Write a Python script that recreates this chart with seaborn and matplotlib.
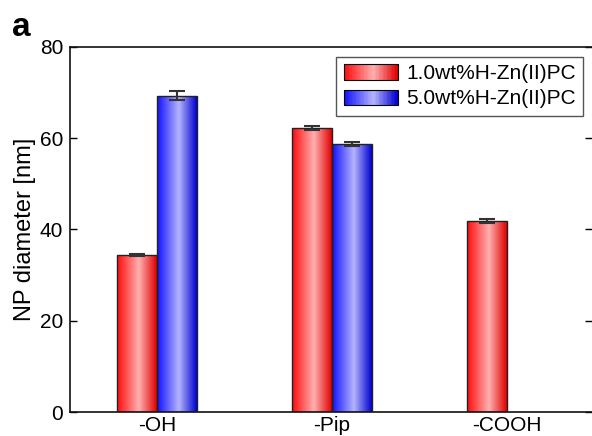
import numpy as np
import pandas as pd
import matplotlib
matplotlib.use("Agg")
import matplotlib.pyplot as plt
import seaborn as sns
from matplotlib.colors import LinearSegmentedColormap
from matplotlib.legend_handler import HandlerBase
from matplotlib.patches import Rectangle

sns.set_style("white")
plt.rcParams["font.family"] = ["Liberation Sans", "DejaVu Sans"]
plt.rcParams["text.color"] = "black"
plt.rcParams["axes.labelcolor"] = "black"
plt.rcParams["xtick.color"] = "black"
plt.rcParams["ytick.color"] = "black"

groups = ["-OH", "-Pip", "-COOH"]
levels = ["1.0wt%H-Zn(II)PC", "5.0wt%H-Zn(II)PC"]
low_vals = [34.4, 62.2, 41.9]
high_vals = [69.3, 58.7, np.nan]
low_err = [0.2, 0.4, 0.4]
high_err = [1.0, 0.4, np.nan]

df = pd.DataFrame({
    "group": groups * 2,
    "level": [levels[0]] * 3 + [levels[1]] * 3,
    "value": low_vals + high_vals,
    "err": low_err + high_err,
})

cmaps = {
    levels[0]: LinearSegmentedColormap.from_list(
        "red_cyl", [(0.0, "#ff0a0a"), (0.55, "#ffb0b0"), (1.0, "#e00000")]),
    levels[1]: LinearSegmentedColormap.from_list(
        "blue_cyl", [(0.0, "#1010ff"), (0.55, "#b4b4ff"), (1.0, "#0000d0")]),
}
grad = np.linspace(0, 1, 256).reshape(1, -1)


class GradientHandler(HandlerBase):
    def __init__(self, cmap):
        super().__init__()
        self.cmap = cmap

    def create_artists(self, legend, orig_handle, xdescent, ydescent,
                       width, height, fontsize, trans):
        n = 40
        arts = []
        for i in range(n):
            arts.append(Rectangle((-xdescent + width * i / n, -ydescent),
                                  width / n * 1.05, height,
                                  facecolor=self.cmap(i / (n - 1)),
                                  edgecolor="none", transform=trans))
        arts.append(Rectangle((-xdescent, -ydescent), width, height,
                              facecolor="none", edgecolor="black", lw=0.8,
                              transform=trans))
        return arts


fig = plt.figure(figsize=(5.92, 4.36), dpi=100)
ax = fig.add_axes([70 / 592, 24 / 436, 522 / 592, 365 / 436])

sns.barplot(data=df, x="group", y="value", hue="level", order=groups,
            hue_order=levels, width=0.457, errorbar=None, ax=ax,
            edgecolor="#222222", linewidth=1.0, legend=False)

for level, cont in zip(levels, ax.containers):
    sub = df[df["level"] == level].set_index("group")
    for bar in cont:
        h = bar.get_height()
        if not np.isfinite(h) or h == 0:
            continue
        x0, w = bar.get_x(), bar.get_width()
        bar.set_facecolor("none")
        bar.set_zorder(3)
        im = ax.imshow(grad, cmap=cmaps[level], aspect="auto",
                       extent=(x0, x0 + w, 0, h), interpolation="bilinear",
                       zorder=2)
        im.set_clip_path(bar)
        gi = int(round(x0 + w / 2))
        e = sub.loc[groups[gi], "err"]
        ax.errorbar(x0 + w / 2, h, yerr=e, fmt="none", ecolor="#333333",
                    elinewidth=1.5, capsize=6, capthick=1.5, zorder=4)

ax.set_xlim(-0.497, 2.486)
ax.set_ylim(0, 80)
ax.set_yticks([0, 20, 40, 60, 80])
ax.set_xlabel("")
ax.set_ylabel("NP diameter [nm]", fontsize=17, labelpad=3)
ax.tick_params(axis="y", direction="in", length=5, width=1, left=True,
               right=True, labelsize=15, pad=5)
ax.tick_params(axis="x", length=0, labelsize=15, pad=3)
for side in ["left", "bottom", "top"]:
    ax.spines[side].set_color("#111111")
    ax.spines[side].set_linewidth(1.2)
ax.spines["right"].set_visible(False)

handles = [Rectangle((0, 0), 1, 1), Rectangle((0, 0), 1, 1)]
leg = ax.legend(handles, levels, loc="upper right",
                bbox_to_anchor=(0.983, 0.973), borderaxespad=0,
                fontsize=15, handlelength=2.6, handleheight=0.75,
                labelspacing=0.3, handletextpad=0.4, borderpad=0.35,
                fancybox=False, framealpha=1, edgecolor="#555555",
                handler_map={handles[0]: GradientHandler(cmaps[levels[0]]),
                             handles[1]: GradientHandler(cmaps[levels[1]])})
leg.get_frame().set_linewidth(1.0)

fig.text(12 / 592, 1 - 36 / 436, "a", fontsize=24, fontweight="bold",
         va="baseline", ha="left")

fig.savefig("out.png", dpi=100)
